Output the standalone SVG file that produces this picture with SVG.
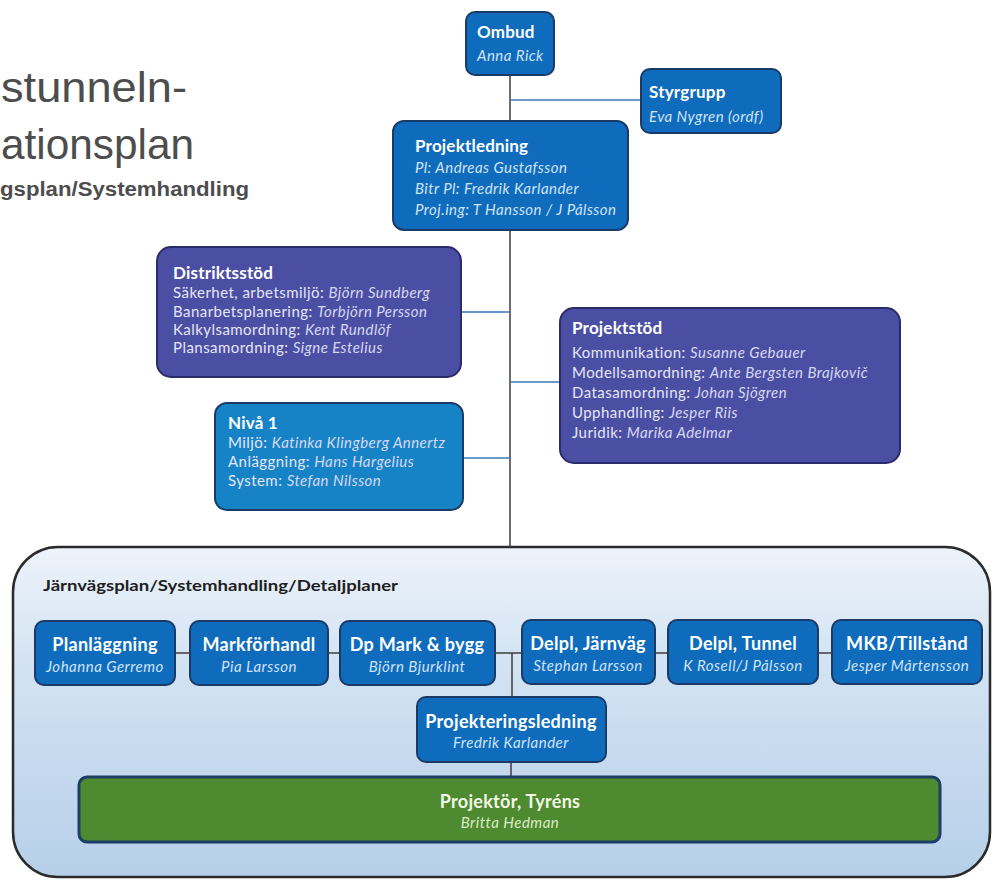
<svg xmlns="http://www.w3.org/2000/svg" width="994" height="881" viewBox="0 0 994 881">
<defs>
<linearGradient id="cont" x1="0" y1="0" x2="0" y2="1">
<stop offset="0" stop-color="#edf3fa"/>
<stop offset="0.35" stop-color="#d3e3f3"/>
<stop offset="1" stop-color="#b6cfe9"/>
</linearGradient>
<style>
.f{font-family:Lato,"Open Sans","Liberation Sans",sans-serif}
.blue{fill:#0f6cbd;stroke:#1b3a66;stroke-width:2}
.purple{fill:#4b4fa3;stroke:#2a2c6a;stroke-width:2}
.cyan{fill:#1683c7;stroke:#1b3a66;stroke-width:2}
.green{fill:#4e8a2f;stroke:#1d3f66;stroke-width:3}
.t{font-family:Lato,"Open Sans","Liberation Sans",sans-serif;font-weight:bold;fill:#ffffff;font-size:17px;letter-spacing:0.2px}
.rt{font-family:Lato,"Open Sans","Liberation Sans",sans-serif;font-weight:bold;fill:#ffffff;font-size:18px;letter-spacing:0.3px;text-anchor:middle}
.s{font-family:Lato,"Open Sans","Liberation Sans",sans-serif;font-style:italic;fill:#cfe3f6;font-size:15px;letter-spacing:0.45px}
.rs{font-family:Lato,"Open Sans","Liberation Sans",sans-serif;font-style:italic;fill:#cfe3f6;font-size:15px;letter-spacing:0.5px;text-anchor:middle}
.l{font-family:Lato,"Open Sans","Liberation Sans",sans-serif;fill:#e4e6f6;font-size:15px;letter-spacing:0.45px}
.l tspan{font-style:italic;fill:#d6d8f2}
.v{stroke:#3d3d3d;stroke-width:1.5;fill:none}
.h{stroke:#3a78b8;stroke-width:1.5;fill:none}
.head{font-family:"Liberation Sans",Arial,sans-serif;fill:#4d4d4d}
</style>
</defs>
<rect width="994" height="881" fill="#ffffff"/>

<g id="heading">
<text class="head" x="1" y="102" font-size="43" textLength="186" lengthAdjust="spacingAndGlyphs">stunneln-</text>
<text class="head" x="1" y="159" font-size="43" textLength="193" lengthAdjust="spacingAndGlyphs">ationsplan</text>
<text class="head" x="0" y="196" font-size="20" font-weight="bold" fill="#333" textLength="249" lengthAdjust="spacingAndGlyphs">gsplan/Systemhandling</text>
</g>

<g id="container">
<rect x="13" y="547" width="977" height="330" rx="45" ry="45" fill="url(#cont)" stroke="#2b2b2b" stroke-width="2.5"/>
<text x="43" y="591" class="f" font-weight="bold" font-size="16" fill="#1e1e1e" textLength="355" lengthAdjust="spacingAndGlyphs">Järnvägsplan/Systemhandling/Detaljplaner</text>
</g>

<g id="connectors">
<line class="v" x1="510" y1="75" x2="510" y2="547"/>
<line class="h" x1="510" y1="100" x2="641" y2="100"/>
<line class="h" x1="461" y1="312" x2="510" y2="312"/>
<line class="h" x1="510" y1="382" x2="560" y2="382"/>
<line class="h" x1="463" y1="458" x2="510" y2="458"/>
<line class="v" x1="175" y1="653" x2="832" y2="653"/>
<line class="v" x1="512" y1="653" x2="512" y2="697"/>
<line class="v" x1="511" y1="762" x2="511" y2="777"/>
</g>

<g id="ombud">
<rect class="blue" x="466" y="12" width="88" height="63" rx="9"/>
<text class="t" x="477" y="38">Ombud</text>
<text class="s" x="477" y="61">Anna Rick</text>
</g>

<g id="styrgrupp">
<rect class="blue" x="641" y="69" width="140" height="64" rx="9"/>
<text class="t" x="649" y="98">Styrgrupp</text>
<text class="s" x="649" y="122">Eva Nygren (ordf)</text>
</g>

<g id="projektledning">
<rect class="blue" x="393" y="121" width="235" height="109" rx="11"/>
<text class="t" x="415" y="152">Projektledning</text>
<text class="s" x="415" y="173">Pl: Andreas Gustafsson</text>
<text class="s" x="415" y="194">Bitr Pl: Fredrik Karlander</text>
<text class="s" x="415" y="215">Proj.ing: T Hansson / J Pålsson</text>
</g>

<g id="distriktsstod">
<rect class="purple" x="157" y="247" width="304" height="130" rx="14"/>
<text class="t" x="173" y="279">Distriktsstöd</text>
<text class="l" x="173" y="298">Säkerhet, arbetsmiljö: <tspan>Björn Sundberg</tspan></text>
<text class="l" x="173" y="317">Banarbetsplanering: <tspan>Torbjörn Persson</tspan></text>
<text class="l" x="173" y="335">Kalkylsamordning: <tspan>Kent Rundlöf</tspan></text>
<text class="l" x="173" y="353">Plansamordning: <tspan>Signe Estelius</tspan></text>
</g>

<g id="projektstod">
<rect class="purple" x="560" y="308" width="340" height="155" rx="14"/>
<text class="t" x="572" y="334">Projektstöd</text>
<text class="l" x="572" y="358">Kommunikation: <tspan>Susanne Gebauer</tspan></text>
<text class="l" x="572" y="378">Modellsamordning: <tspan>Ante Bergsten Brajkovič</tspan></text>
<text class="l" x="572" y="398">Datasamordning: <tspan>Johan Sjögren</tspan></text>
<text class="l" x="572" y="418">Upphandling: <tspan>Jesper Riis</tspan></text>
<text class="l" x="572" y="438">Juridik: <tspan>Marika Adelmar</tspan></text>
</g>

<g id="niva1">
<rect class="cyan" x="215" y="403" width="248" height="107" rx="12"/>
<text class="t" x="228" y="429">Nivå 1</text>
<text class="l" x="228" y="448">Miljö: <tspan>Katinka Klingberg Annertz</tspan></text>
<text class="l" x="228" y="467">Anläggning: <tspan>Hans Hargelius</tspan></text>
<text class="l" x="228" y="486">System: <tspan>Stefan Nilsson</tspan></text>
</g>

<g id="planlaggning">
<rect class="blue" x="35" y="621" width="140" height="64" rx="9"/>
<text class="rt" x="105" y="651">Planläggning</text>
<text class="rs" x="105" y="672">Johanna Gerremo</text>
</g>

<g id="markforhandl">
<rect class="blue" x="190" y="621" width="138" height="64" rx="9"/>
<text class="rt" x="259" y="651">Markförhandl</text>
<text class="rs" x="259" y="672">Pia Larsson</text>
</g>

<g id="dpmark">
<rect class="blue" x="340" y="621" width="155" height="64" rx="9"/>
<text class="rt" x="417" y="651">Dp Mark &amp; bygg</text>
<text class="rs" x="417" y="672">Björn Bjurklint</text>
</g>

<g id="delpljarnvag">
<rect class="blue" x="522" y="620" width="133" height="64" rx="9"/>
<text class="rt" x="588" y="650">Delpl, Järnväg</text>
<text class="rs" x="588" y="671">Stephan Larsson</text>
</g>

<g id="delpltunnel">
<rect class="blue" x="668" y="620" width="150" height="64" rx="9"/>
<text class="rt" x="743" y="650">Delpl, Tunnel</text>
<text class="rs" x="743" y="671">K Rosell/J Pålsson</text>
</g>

<g id="mkb">
<rect class="blue" x="832" y="620" width="150" height="64" rx="9"/>
<text class="rt" x="907" y="650">MKB/Tillstånd</text>
<text class="rs" x="907" y="671">Jesper Mårtensson</text>
</g>

<g id="projekteringsledning">
<rect class="blue" x="417" y="697" width="189" height="65" rx="9"/>
<text class="rt" x="511" y="728">Projekteringsledning</text>
<text class="rs" x="511" y="748">Fredrik Karlander</text>
</g>

<g id="projektor">
<rect class="green" x="79" y="777" width="861" height="65" rx="8"/>
<text class="rt" x="510" y="808" style="fill:#f3f7e6">Projektör, Tyréns</text>
<text class="rs" x="510" y="828" style="fill:#dcebc6">Britta Hedman</text>
</g>
</svg>
